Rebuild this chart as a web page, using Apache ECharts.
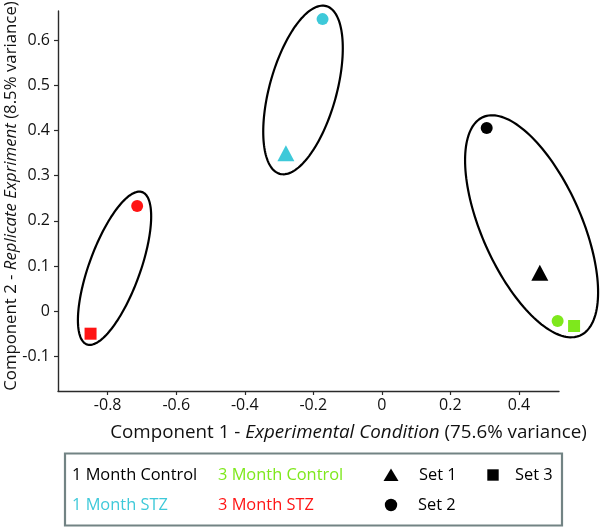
<!DOCTYPE html>
<html>
<head>
<meta charset="utf-8">
<script src="https://cdn.jsdelivr.net/npm/echarts@6/dist/echarts.min.js"></script>
<style>
html,body{margin:0;padding:0;background:#fff;}
#chart{width:600px;height:527px;}
</style>
</head>
<body>
<div id="chart"></div>
<script>
// ---- data ----
const xTicks = [-0.8, -0.6, -0.4, -0.2, 0, 0.2, 0.4];
const yTicks = [-0.1, 0, 0.1, 0.2, 0.3, 0.4, 0.5, 0.6];
const groupNames = ['1 Month Control', '1 Month STZ', '3 Month Control', '3 Month STZ'];
const setNames = ['Set 1', 'Set 2', 'Set 3'];
// [set, component 1, component 2]
const oneMonthControl = [['Set 1', 0.461, 0.085], ['Set 2', 0.306, 0.406]];
const oneMonthSTZ = [['Set 1', -0.280, 0.350], ['Set 2', -0.173, 0.647]];
const threeMonthControl = [['Set 2', 0.513, -0.022], ['Set 3', 0.561, -0.033]];
const threeMonthSTZ = [['Set 2', -0.714, 0.233], ['Set 3', -0.850, -0.050]];
// cluster ellipse centres (component 1, component 2)
const clusterCenters = [[-0.230, 0.490], [-0.780, 0.095], [0.437, 0.188]];

// ---- styles ----
const FONT = 'Open Sans';
const groupColors = ['#000000', '#3ec9d9', '#7ee81c', '#ff1414'];
const setSymbols = { 'Set 1': ['triangle', [17, 16]], 'Set 2': ['circle', 12], 'Set 3': ['rect', 12] };
// ellipse outline sizes in px: semi-major, semi-minor, tilt from vertical (deg)
const ellipseShapes = [
  { a: 87, b: 33.5, tilt: 15.5 },
  { a: 81, b: 25.5, tilt: 20 },
  { a: 119.5, b: 49.7, tilt: -24 }
];

const groupData = [oneMonthControl, oneMonthSTZ, threeMonthControl, threeMonthSTZ];

const scatterSeries = groupData.map((arr, gi) => ({
  name: groupNames[gi],
  type: 'scatter',
  clip: false,
  z: 3,
  itemStyle: { color: groupColors[gi], opacity: 1 },
  data: arr.map(d => ({
    value: [d[1], d[2]],
    symbol: setSymbols[d[0]][0],
    symbolSize: setSymbols[d[0]][1]
  }))
}));

const ellipseSeries = {
  type: 'custom',
  clip: false,
  z: 2,
  silent: true,
  data: clusterCenters,
  renderItem: function (params, api) {
    const c = api.coord([api.value(0), api.value(1)]);
    const s = ellipseShapes[params.dataIndex];
    const th = s.tilt * Math.PI / 180;
    const ux = Math.sin(th), uy = -Math.cos(th);
    const vx = Math.cos(th), vy = Math.sin(th);
    const pts = [];
    for (let i = 0; i < 160; i++) {
      const t = 2 * Math.PI * i / 160;
      pts.push([
        c[0] + s.a * Math.cos(t) * ux + s.b * Math.sin(t) * vx,
        c[1] + s.a * Math.cos(t) * uy + s.b * Math.sin(t) * vy
      ]);
    }
    return {
      type: 'polygon',
      shape: { points: pts },
      style: { fill: 'none', stroke: '#000', lineWidth: 2.2 }
    };
  }
};

const fmt = v => (v === 0 ? '0' : String(Math.round(v * 10) / 10));

// legend built from names
const LEGEND_FONT = '16.4px "' + FONT + '"';
const legendRows = [475, 505];
const legendGraphics = [
  { type: 'rect', shape: { x: 65, y: 453.5, width: 497, height: 72 },
    style: { fill: '#fff', stroke: '#728384', lineWidth: 2.2 } }
];
const groupPos = [[72, 0], [72, 1], [218, 0], [218, 1]];
groupNames.forEach((g, i) => {
  legendGraphics.push({
    type: 'text', x: groupPos[i][0], y: legendRows[groupPos[i][1]],
    style: { text: g, fill: groupColors[i], font: LEGEND_FONT, verticalAlign: 'middle' }
  });
});
const setPos = [[391, 0, 419], [391, 1, 418], [493, 0, 515]];
setNames.forEach((s, i) => {
  const cx = setPos[i][0], cy = legendRows[setPos[i][1]];
  let shape;
  if (s === 'Set 1') shape = { type: 'polygon', shape: { points: [[cx, cy - 6.5], [cx - 7.5, cy + 6], [cx + 7.5, cy + 6]] }, style: { fill: '#000' } };
  else if (s === 'Set 2') shape = { type: 'circle', shape: { cx: cx, cy: cy, r: 6.2 }, style: { fill: '#000' } };
  else shape = { type: 'rect', shape: { x: cx - 5.7, y: cy - 5.7, width: 11.4, height: 11.4 }, style: { fill: '#000' } };
  legendGraphics.push(shape);
  legendGraphics.push({
    type: 'text', x: setPos[i][2], y: cy,
    style: { text: s, fill: '#000', font: LEGEND_FONT, verticalAlign: 'middle' }
  });
});

const axisCommon = {
  type: 'value',
  splitLine: { show: false },
  axisLine: { show: true, onZero: false, lineStyle: { color: '#2a2a2a', width: 1.4 } },
  axisTick: { show: true, inside: false, length: 4, lineStyle: { color: '#2a2a2a', width: 1.2 } }
};

const chart = echarts.init(document.getElementById('chart'), null, { renderer: 'canvas' });
chart.setOption({
  backgroundColor: '#ffffff',
  animation: false,
  textStyle: { fontFamily: FONT },
  grid: { left: 58, right: 41, top: 11, bottom: 136, outerBoundsMode: 'none', containLabel: false },
  xAxis: Object.assign({}, axisCommon, {
    min: -0.945, max: 0.517,
    axisTick: Object.assign({}, axisCommon.axisTick, { customValues: xTicks }),
    axisLabel: { customValues: xTicks, formatter: fmt, color: '#111', fontSize: 16, fontFamily: FONT, margin: 6 },
    name: '{n|Component 1 - }{i|Experimental Condition}{n| (75.6% variance)}',
    nameLocation: 'middle',
    nameGap: 32,
    nameTextStyle: {
      padding: [0, 0, 0, 80],
      rich: {
        n: { fontSize: 18.8, fontFamily: FONT, color: '#111' },
        i: { fontSize: 18.8, fontFamily: FONT, fontStyle: 'italic', color: '#111' }
      }
    }
  }),
  yAxis: Object.assign({}, axisCommon, {
    min: -0.177, max: 0.665,
    axisTick: Object.assign({}, axisCommon.axisTick, { customValues: yTicks }),
    axisLabel: { customValues: yTicks, formatter: fmt, color: '#111', fontSize: 16, fontFamily: FONT, margin: 8 },
    name: '{n|Component 2 - }{i|Replicate Expriment}{n| (8.5% variance)}',
    nameLocation: 'middle',
    nameGap: 38,
    nameMoveOverlap: false,
    nameTextStyle: {
      padding: [0, 0, 0, 10],
      rich: {
        n: { fontSize: 16.8, fontFamily: FONT, color: '#111' },
        i: { fontSize: 16.8, fontFamily: FONT, fontStyle: 'italic', color: '#111' }
      }
    }
  }),
  series: [ellipseSeries].concat(scatterSeries),
  graphic: legendGraphics
});
</script>
</body>
</html>
